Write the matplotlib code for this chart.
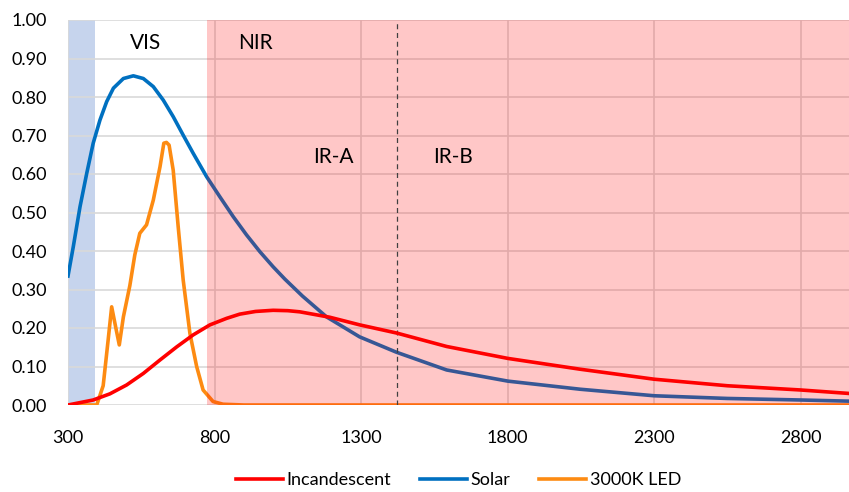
import matplotlib.pyplot as plt

# wavelength (nm) and relative intensity
solar_nm = [300, 318, 341, 364, 386, 409, 432, 455, 489, 523, 557, 591, 625, 659,
            693, 727, 773, 818, 864, 909, 955, 1000, 1040, 1100, 1182, 1295, 1421,
            1592, 1801, 2047, 2300, 2550, 2800, 2965]
solar_val = [0.335, 0.411, 0.515, 0.602, 0.680, 0.740, 0.788, 0.823, 0.848, 0.855,
             0.848, 0.827, 0.792, 0.749, 0.701, 0.654, 0.593, 0.541, 0.489, 0.442,
             0.398, 0.359, 0.327, 0.283, 0.229, 0.177, 0.137, 0.091, 0.062, 0.041,
             0.024, 0.017, 0.013, 0.010]

incand_nm = [300, 386, 443, 500, 557, 614, 671, 727, 784, 841, 886, 940, 1000,
             1050, 1091, 1193, 1296, 1421, 1592, 1801, 2047, 2300, 2550, 2800, 2965]
incand_val = [0.0, 0.013, 0.029, 0.052, 0.082, 0.117, 0.151, 0.182, 0.208, 0.225,
              0.236, 0.243, 0.246, 0.245, 0.242, 0.228, 0.208, 0.187, 0.152, 0.121,
              0.093, 0.067, 0.05, 0.039, 0.030]

led_nm = [300, 398, 420, 437, 449, 462, 475, 489, 511, 528, 545, 568, 591, 614,
          627, 636, 645, 659, 676, 693, 716, 739, 761, 795, 829, 900, 2965]
led_val = [0.0, 0.0, 0.05, 0.169, 0.255, 0.205, 0.156, 0.229, 0.31, 0.39, 0.446,
           0.468, 0.532, 0.619, 0.680, 0.682, 0.675, 0.61, 0.463, 0.325, 0.186,
           0.10, 0.039, 0.009, 0.002, 0.0, 0.0]

x_ticks = [300, 800, 1300, 1800, 2300, 2800]
y_ticks = [0.0, 0.1, 0.2, 0.3, 0.4, 0.5, 0.6, 0.7, 0.8, 0.9, 1.0]

plt.rcParams['font.family'] = ['Lato', 'DejaVu Sans']

fig = plt.figure(figsize=(8.49, 4.92), dpi=100)
ax = fig.add_axes([68 / 849, 1 - 405 / 492, 1 - 68 / 849, 385 / 492])

# region shading
ax.axvspan(300, 392, color='#4472c4', alpha=0.3, lw=0, zorder=0)
ax.axvspan(775, 2965, color='#ff0000', alpha=0.22, lw=0, zorder=3)
ax.axvline(1421, color='#404040', lw=0.9, ls=(0, (4, 3)), zorder=4)

ax.plot(solar_nm, solar_val, color='#0070c0', lw=2.6, label='Solar', zorder=2)
ax.plot(led_nm, led_val, color='#fd8b12', lw=2.6, label='3000K LED', zorder=2)
ax.plot(incand_nm, incand_val, color='#ff0000', lw=2.6, label='Incandescent', zorder=5)

ax.text(563, 0.94, 'VIS', fontsize=15, ha='center', va='center', zorder=6)
ax.text(938, 0.94, 'NIR', fontsize=15, ha='center', va='center', zorder=6)
ax.text(1204, 0.645, 'IR-A', fontsize=15, ha='center', va='center', zorder=6)
ax.text(1613, 0.645, 'IR-B', fontsize=15, ha='center', va='center', zorder=6)

ax.set_xlim(300, 2965)
ax.set_ylim(0, 1.0)
ax.set_xticks(x_ticks)
ax.set_yticks(y_ticks)
ax.set_yticklabels([f'{v:.2f}' for v in y_ticks])
ax.tick_params(length=0, labelsize=13)
ax.tick_params(axis='x', pad=18)
ax.tick_params(axis='y', pad=15)
ax.grid(True, color='#d9d9d9', lw=1.2, zorder=1)
ax.set_axisbelow(True)
for s in ax.spines.values():
    s.set_visible(False)

h, l = ax.get_legend_handles_labels()
order = [2, 0, 1]
ax.legend([h[i] for i in order], [l[i] for i in order], loc='center',
          bbox_to_anchor=(0.5, -0.195), ncol=3, frameon=False, fontsize=13,
          handlelength=2.6, columnspacing=1.6, handletextpad=0.2)

fig.savefig('out.png', dpi=100)
